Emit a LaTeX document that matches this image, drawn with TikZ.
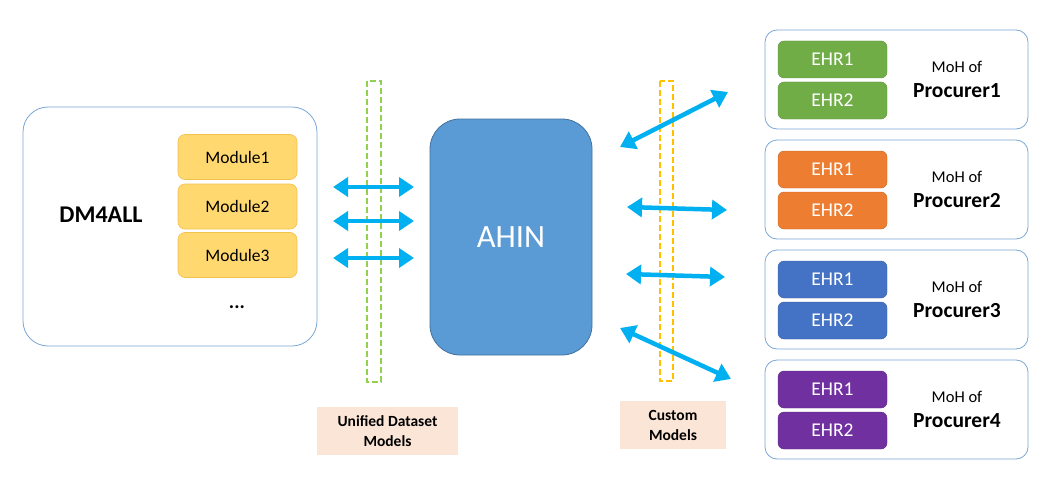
\documentclass[tikz,border=0pt]{standalone}
\usepackage{fontspec}
\setmainfont{Carlito}
\usetikzlibrary{arrows.meta}
\definecolor{boxline}{HTML}{7AA7D6}
\definecolor{modfill}{HTML}{FFD970}
\definecolor{modline}{HTML}{F2C14E}
\definecolor{arrowblue}{HTML}{00B0F0}
\definecolor{ahinfill}{HTML}{5B9BD5}
\definecolor{ahinline}{HTML}{41719C}
\definecolor{dgreen}{HTML}{92D050}
\definecolor{dorange}{HTML}{FFC000}
\definecolor{ehrgreen}{HTML}{70AD47}
\definecolor{ehrorange}{HTML}{ED7D31}
\definecolor{ehrblue}{HTML}{4472C4}
\definecolor{ehrpurple}{HTML}{7030A0}
\definecolor{labfill}{HTML}{FBE5D6}
\tikzset{
  x=1pt,y=-1pt,
  bigbox/.style={draw=boxline,line width=0.8pt,fill=white,rounded corners=#1},
  modbox/.style={draw=modline,fill=modfill,line width=0.6pt,rounded corners=7pt,minimum width=119pt,minimum height=45pt,inner sep=0pt,font=\fontsize{17.5}{20}\selectfont},
  ehrbox/.style={draw=#1!85!black,fill=#1,rounded corners=6pt,minimum width=109pt,minimum height=37pt,inner sep=0pt,text=white,font=\fontsize{19.5}{22}\selectfont},
  dashbox/.style={draw=#1,dashed,dash pattern=on 6pt off 3pt,line width=1.1pt},
  fatarrow/.style={draw=arrowblue,line width=4.5pt,{Triangle[width=19pt,length=15pt]}-{Triangle[width=19pt,length=15pt]}},
  labbox/.style={fill=labfill,inner sep=0pt,align=center,font=\bfseries\fontsize{15.5}{20}\selectfont},
  mohtext/.style={align=center,font=\fontsize{16.5}{18}\selectfont}
}
\begin{document}
\begin{tikzpicture}
\useasboundingbox (0,0) rectangle (1058,503);
% DM4ALL
\node[bigbox=25pt,minimum width=294pt,minimum height=239pt,inner sep=0pt] (dm) at (170,226.5) {};
\node[font=\bfseries\fontsize{24}{28}\selectfont] (dmt) at (101,215) {DM4ALL};
\node[modbox] (m1) at (237.5,157) {Module1};
\node[modbox] (m2) at (237.5,206.5) {Module2};
\node[modbox] (m3) at (237.5,255) {Module3};
\node[font=\bfseries\fontsize{20}{22}\selectfont] (dots) at (237,307) {...};
% dashed boxes
\draw[dashbox=dgreen] (367,81) rectangle (381,382);
\draw[dashbox=dorange] (660,81) rectangle (673,381);
% AHIN
\node[draw=ahinline,fill=ahinfill,line width=0.8pt,rounded corners=30pt,minimum width=162pt,minimum height=236pt,inner sep=0pt,text=white,font=\fontsize{32.5}{36}\selectfont] (ahin) at (511,237) {AHIN};
% left arrows
\coordinate (la1) at (333,187); \coordinate (lb1) at (414,187);
\coordinate (la2) at (333,221); \coordinate (lb2) at (414,221);
\coordinate (la3) at (333,258); \coordinate (lb3) at (414,258);
\draw[fatarrow] (la1) -- (lb1);
\draw[fatarrow] (la2) -- (lb2);
\draw[fatarrow] (la3) -- (lb3);
% right arrows
\coordinate (ra1) at (620,147); \coordinate (rb1) at (728,92);
\coordinate (ra2) at (627,207); \coordinate (rb2) at (727,210);
\coordinate (ra3) at (626,274); \coordinate (rb3) at (725,277);
\coordinate (ra4) at (620,328); \coordinate (rb4) at (731,379);
\draw[fatarrow] (ra1) -- (rb1);
\draw[fatarrow] (ra2) -- (rb2);
\draw[fatarrow] (ra3) -- (rb3);
\draw[fatarrow] (ra4) -- (rb4);
% procurer boxes
\foreach \i/\y/\c in {1/30/ehrgreen,2/140/ehrorange,3/250/ehrblue,4/360/ehrpurple}{
  \node[bigbox=12pt,minimum width=263pt,minimum height=99pt,inner sep=0pt] (p\i) at (896.5,\y+49.5) {};
  \node[ehrbox=\c] (e\i a) at (832.5,\y+29.5) {EHR1};
  \node[ehrbox=\c] (e\i b) at (832.5,\y+70.5) {EHR2};
  \node[mohtext] (moh\i) at (957,\y+37) {MoH of};
  \node[font=\bfseries\fontsize{21.5}{24}\selectfont] (pr\i) at (957,\y+61) {Procurer\i};
}
% labels
\node[labbox,minimum width=141pt,minimum height=48pt] (udm) at (387.5,431) {Unified Dataset\\Models};
\node[labbox,minimum width=106pt,minimum height=48pt] (cm) at (673,425) {Custom\\Models};
\end{tikzpicture}
\end{document}
